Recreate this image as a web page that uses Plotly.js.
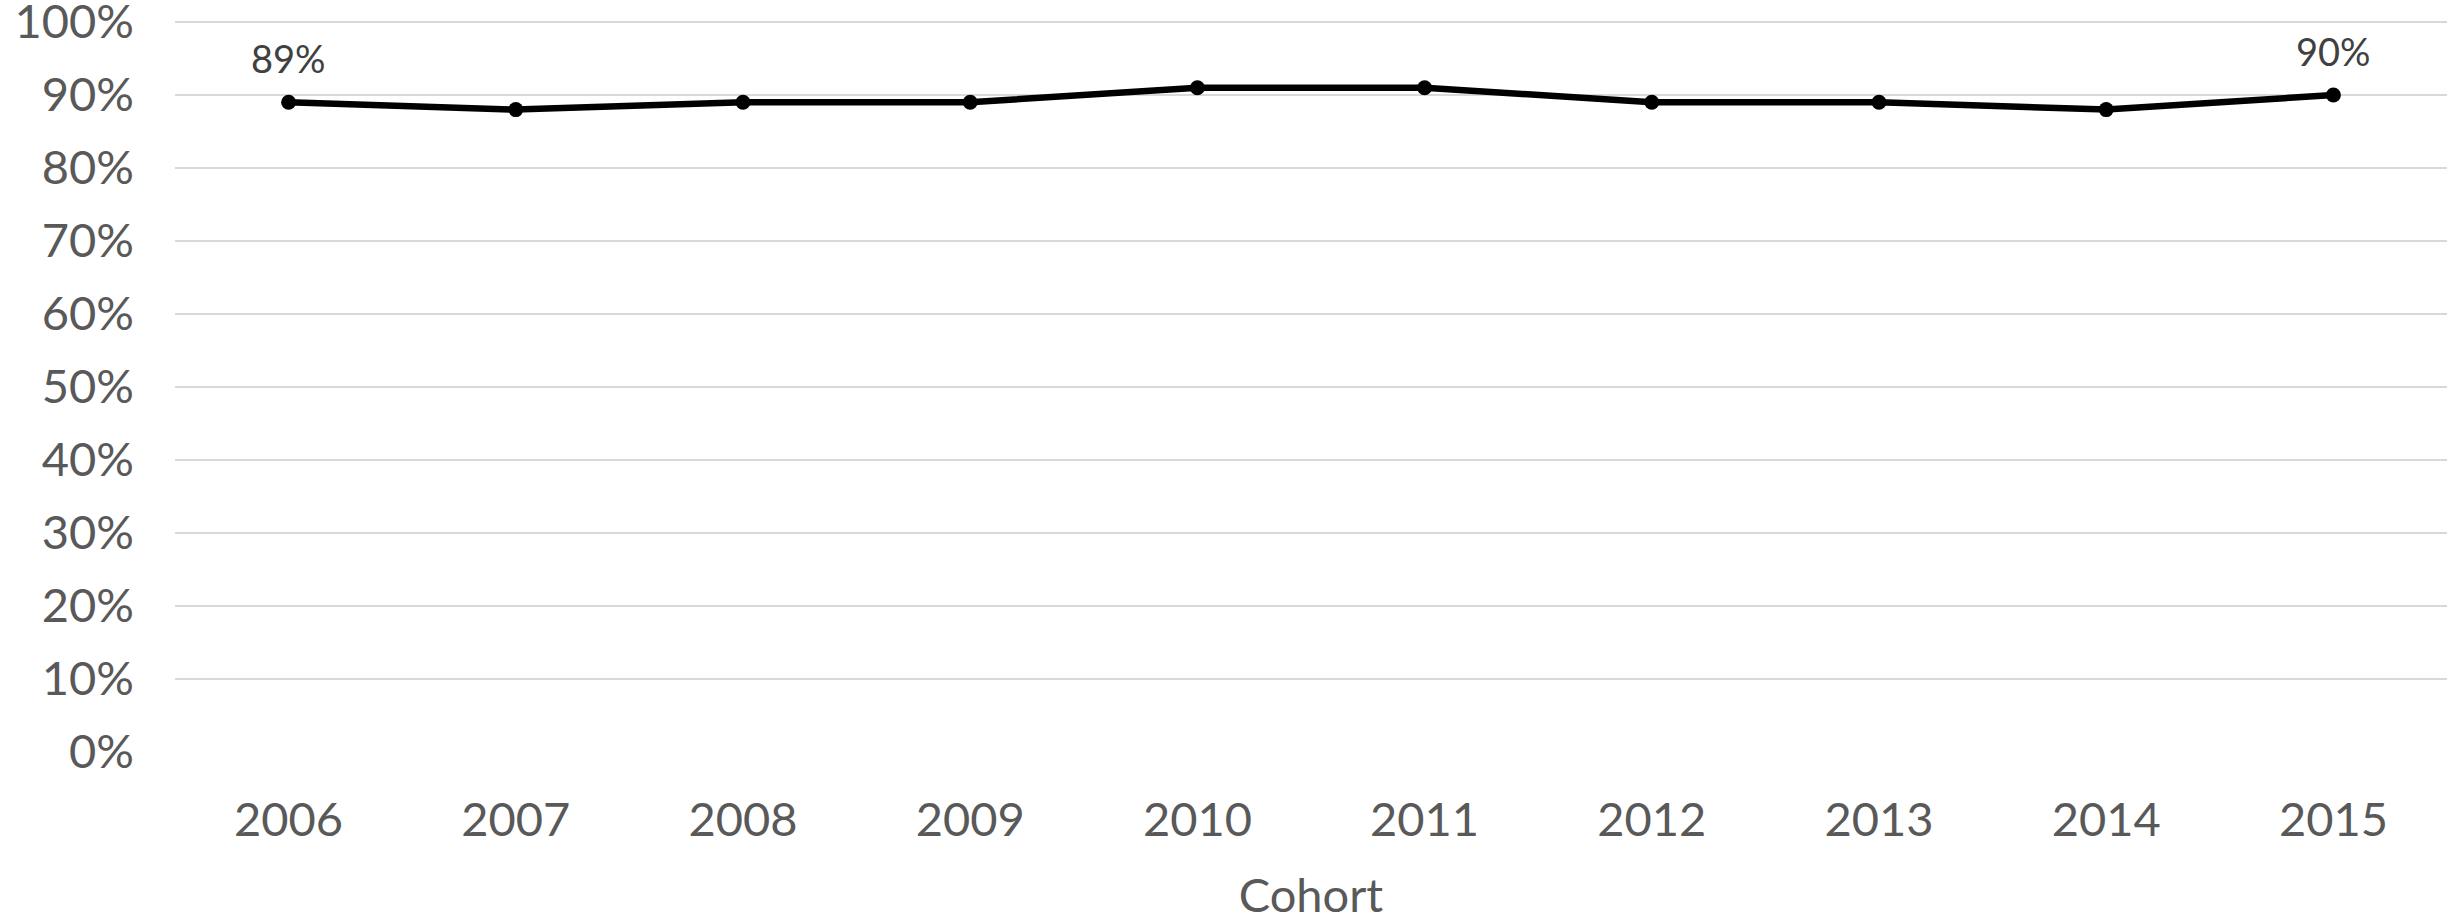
<!DOCTYPE html>
<html>
<head>
<meta charset="utf-8">
<script src="https://cdn.plot.ly/plotly-3.0.1.min.js"></script>
<style>html,body{margin:0;padding:0;background:#fff;}#chart{width:2451px;height:922px;}</style>
</head>
<body>
<div id="chart"></div>
<script>
var cohorts = ['2006','2007','2008','2009','2010','2011','2012','2013','2014','2015'];
var rates = [0.89, 0.88, 0.89, 0.89, 0.91, 0.91, 0.89, 0.89, 0.88, 0.90];
var labelText = ['89%', '', '', '', '', '', '', '', '', '90%'];
var yTickVals = [0,0.1,0.2,0.3,0.4,0.5,0.6,0.7,0.8,0.9,1.0];
var yTickText = ['0%','10%','20%','30%','40%','50%','60%','70%','80%','90%','100%'];

var FONT = 'Lato, "Open Sans", sans-serif';

var annotations = [];
for (var i = 0; i < cohorts.length; i++) {
  if (labelText[i]) {
    annotations.push({
      x: i, y: rates[i], xref: 'x', yref: 'y',
      text: labelText[i], showarrow: false, yshift: 44,
      font: {family: FONT, size: 38, color: '#404040'}
    });
  }
}

var trace = {
  x: cohorts, y: rates, type: 'scatter', mode: 'lines+markers',
  line: {color: '#000000', width: 6.5},
  marker: {color: '#000000', size: 15},
  hoverinfo: 'skip', cliponaxis: false
};

var layout = {
  width: 2451, height: 922,
  margin: {l: 175, r: 4, t: 0, b: 170, pad: 0},
  paper_bgcolor: '#ffffff', plot_bgcolor: '#ffffff',
  showlegend: false,
  font: {family: FONT, color: '#595959'},
  xaxis: {
    type: 'category', autorange: false, range: [-0.5, cohorts.length - 0.5],
    tickfont: {family: FONT, size: 47, color: '#595959'},
    showgrid: false, zeroline: false, showline: false,
    ticks: '', ticklabelstandoff: 36,
    title: {text: 'Cohort', font: {family: FONT, size: 47, color: '#595959'}, standoff: 34}
  },
  yaxis: {
    autorange: false, range: [0, 1.0301],
    tickvals: yTickVals, ticktext: yTickText,
    tickfont: {family: FONT, size: 47, color: '#595959'},
    showgrid: true, gridcolor: '#d9d9d9', gridwidth: 2,
    zeroline: false, showline: false, ticks: '', ticklabelstandoff: 40,
    ticklabeloverflow: 'allow',
    fixedrange: true
  },
  annotations: annotations
};

Plotly.newPlot('chart', [trace], layout, {staticPlot: true, displayModeBar: false});
</script>
</body>
</html>
